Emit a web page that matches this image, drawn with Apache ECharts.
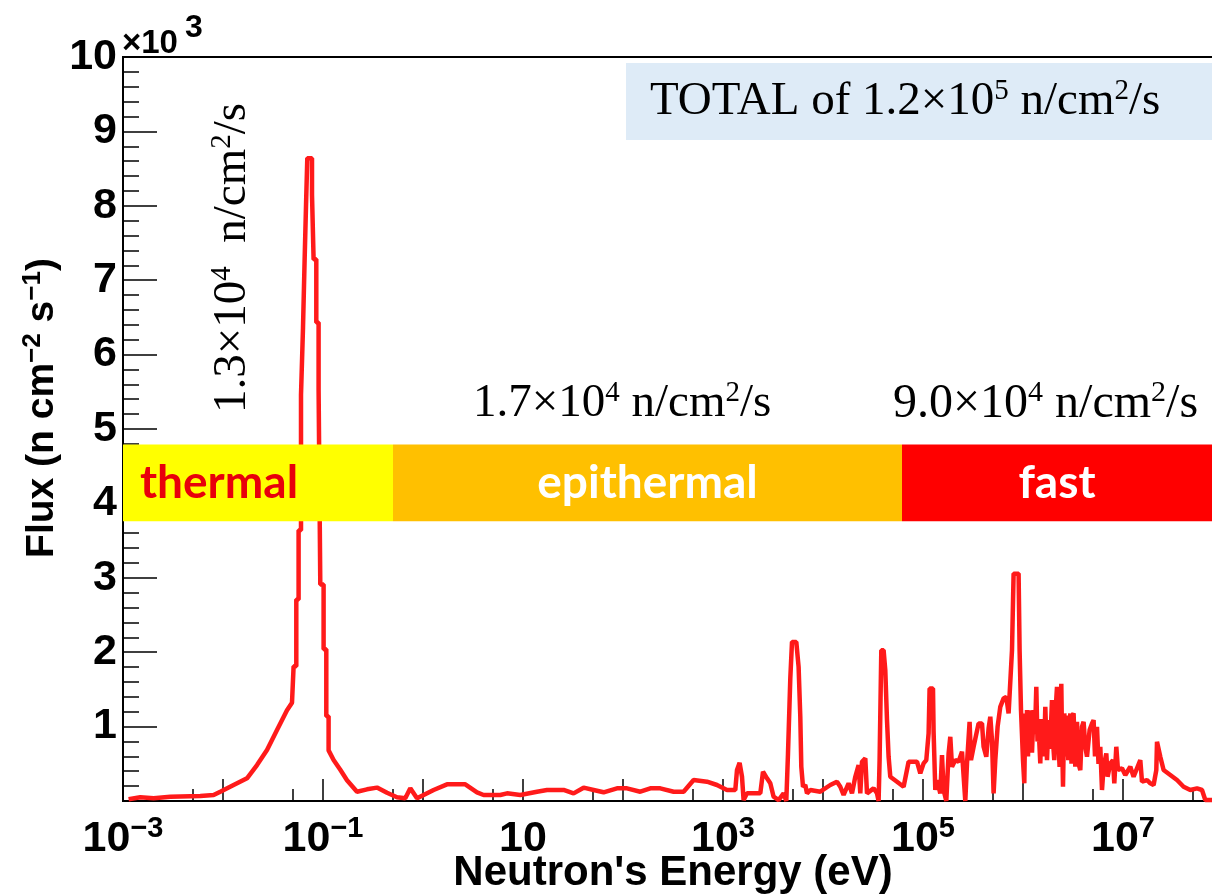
<!DOCTYPE html>
<html>
<head>
<meta charset="utf-8">
<title>Neutron flux spectrum</title>
<script src="https://cdn.jsdelivr.net/npm/echarts@6/dist/echarts.min.js"></script>
<style>
  html, body { margin: 0; padding: 0; background: #fff; }
  #chart { width: 1212px; height: 894px; }
</style>
</head>
<body>
<div id="chart"></div>
<script>
// x = log10(E / eV), y = flux in units of 10^3 n cm^-2 s^-1
var thermalSpectrum = [
  [-2.944, 0.023], [-2.827, 0.050], [-2.694, 0.036], [-2.527, 0.058], [-2.227, 0.067],
  [-2.094, 0.081], [-2.027, 0.125], [-1.894, 0.215], [-1.76, 0.305], [-1.66, 0.483],
  [-1.56, 0.685], [-1.46, 0.953], [-1.36, 1.221], [-1.31, 1.321],
  [-1.294, 1.32], [-1.294, 1.81], [-1.267, 1.81], [-1.267, 2.71], [-1.244, 2.71],
  [-1.244, 3.64], [-1.22, 3.64], [-1.22, 5.46], [-1.20, 5.46], [-1.20, 6.36],
  [-1.184, 6.36], [-1.184, 7.26], [-1.167, 7.26], [-1.167, 8.15], [-1.157, 8.15],
  [-1.157, 8.64], [-1.11, 8.64], [-1.11, 8.15], [-1.094, 8.15], [-1.094, 7.28],
  [-1.067, 7.28], [-1.067, 6.43], [-1.044, 6.43], [-1.044, 5.53], [-1.027, 5.53],
  [-1.027, 2.91], [-0.994, 2.91], [-0.994, 2.04], [-0.967, 2.04], [-0.967, 1.14],
  [-0.944, 1.14], [-0.944, 0.68], [-0.894, 0.55], [-0.827, 0.42], [-0.76, 0.28],
  [-0.66, 0.125], [-0.56, 0.157], [-0.46, 0.18], [-0.36, 0.11]
];
var epithermalSpectrum = [
  [-0.26, 0.05], [-0.177, 0.036], [-0.127, 0.17], [-0.06, 0.036], [0.006, 0.081],
  [0.106, 0.148], [0.24, 0.224], [0.423, 0.224], [0.54, 0.117], [0.606, 0.081],
  [0.773, 0.081], [0.84, 0.103], [0.973, 0.081], [1.14, 0.125], [1.24, 0.148],
  [1.406, 0.148], [1.506, 0.103], [1.606, 0.179], [1.706, 0.148], [1.806, 0.117],
  [1.94, 0.17], [2.04, 0.17], [2.173, 0.125], [2.273, 0.17], [2.373, 0.17],
  [2.506, 0.125], [2.606, 0.125], [2.706, 0.282], [2.84, 0.259], [2.94, 0.215],
  [3.04, 0.148], [3.123, 0.148], [3.14, 0.416], [3.166, 0.514], [3.19, 0.326],
  [3.206, 0.013], [3.24, 0.103], [3.373, 0.103], [3.40, 0.393], [3.44, 0.305],
  [3.473, 0.238], [3.506, 0.058], [3.556, 0.013], [3.606, 0.103], [3.633, 0.0],
  [3.65, 0.64], [3.673, 1.647], [3.69, 2.138], [3.733, 2.138], [3.756, 1.803],
  [3.773, 1.132], [3.783, 0.46], [3.80, 0.192], [3.823, 0.215], [3.84, 0.103],
  [3.873, 0.148], [3.973, 0.125], [4.073, 0.215], [4.14, 0.259], [4.173, 0.192],
  [4.206, 0.081], [4.256, 0.238], [4.29, 0.103], [4.323, 0.326], [4.356, 0.483],
  [4.373, 0.103], [4.39, 0.528], [4.423, 0.573], [4.44, 0.103], [4.506, 0.17],
  [4.54, 0.103], [4.556, 0.0], [4.566, 0.55], [4.583, 2.027], [4.606, 2.027],
  [4.623, 1.758], [4.64, 1.087], [4.656, 0.595], [4.673, 0.326], [4.74, 0.259]
];
var fastSpectrum = [
  [4.806, 0.192], [4.856, 0.528], [4.94, 0.528], [4.973, 0.372], [5.006, 0.506],
  [5.033, 0.55], [5.056, 0.909], [5.066, 1.513], [5.10, 1.513], [5.106, 0.93],
  [5.123, 0.148], [5.14, 0.282], [5.173, 0.103], [5.19, 0.617], [5.206, 0.148],
  [5.233, 0.0], [5.256, 0.64], [5.273, 0.863], [5.29, 0.46], [5.323, 0.55],
  [5.356, 0.528], [5.39, 0.662], [5.423, 0.0], [5.44, 0.506], [5.466, 1.064],
  [5.48, 0.55], [5.506, 0.729], [5.556, 1.043], [5.59, 1.043], [5.606, 0.729],
  [5.633, 0.595], [5.656, 0.976], [5.673, 1.132], [5.69, 0.819], [5.706, 0.103],
  [5.723, 0.55], [5.746, 0.997], [5.773, 1.266], [5.806, 1.379], [5.833, 1.40],
  [5.856, 1.177], [5.89, 2.027], [5.906, 3.056], [5.956, 3.056], [5.966, 2.027],
  [5.98, 1.221], [6.0, 0.55], [6.013, 0.238], [6.023, 1.177], [6.033, 0.7],
  [6.04, 1.221], [6.05, 0.6], [6.06, 1.2], [6.07, 0.75], [6.08, 1.22],
  [6.09, 0.65], [6.106, 1.221], [6.12, 0.9], [6.133, 1.534], [6.145, 0.8],
  [6.156, 0.997], [6.173, 0.506], [6.185, 1.1], [6.20, 0.997], [6.21, 0.6],
  [6.223, 1.266], [6.24, 0.55], [6.256, 1.087], [6.27, 0.7], [6.29, 1.356],
  [6.30, 0.8], [6.313, 0.55], [6.325, 1.2], [6.34, 1.534], [6.35, 0.9],
  [6.366, 0.46], [6.383, 1.577], [6.39, 0.9], [6.40, 0.192], [6.413, 1.177],
  [6.43, 0.6], [6.44, 1.15], [6.453, 0.55], [6.473, 1.177], [6.485, 0.5],
  [6.495, 1.15], [6.506, 1.177], [6.523, 0.46], [6.54, 1.064], [6.556, 0.5],
  [6.573, 0.416], [6.59, 1.0], [6.606, 1.064], [6.623, 0.729], [6.64, 0.595],
  [6.666, 0.953], [6.69, 1.043], [6.706, 1.087], [6.72, 0.6], [6.74, 0.997],
  [6.755, 0.5], [6.773, 0.729], [6.79, 0.148], [6.806, 0.46], [6.833, 0.64],
  [6.846, 0.326], [6.873, 0.506], [6.90, 0.55], [6.913, 0.238], [6.933, 0.729],
  [6.95, 0.416], [6.99, 0.439], [7.023, 0.349], [7.073, 0.46], [7.106, 0.326],
  [7.173, 0.55], [7.19, 0.259], [7.24, 0.282], [7.273, 0.238], [7.306, 0.215],
  [7.333, 0.416], [7.34, 0.796], [7.373, 0.595], [7.406, 0.416], [7.473, 0.349],
  [7.54, 0.282], [7.606, 0.192], [7.673, 0.148], [7.74, 0.17], [7.79, 0.148],
  [7.823, 0.013], [7.923, 0.013]
];

// energy bands (log10 eV) and the flux range they are drawn over
var bandNames = ['thermal', 'epithermal', 'fast'];
var bandStart = [-3, -0.3, 4.79];
var bandEnd = [-0.3, 4.79, 8];
var bandColors = ['#ffff00', '#ffc000', '#ff0000'];
var bandTextColors = ['#e8000b', '#ffffff', '#ffffff'];
var bandFlux = [3.76, 4.79];

// minor x ticks at 5 x 10^n
var minorTickLogs = [];
for (var n = -3; n < 8; n++) minorTickLogs.push(n + Math.log10(5));

var sansFont = '"Liberation Sans", Arial, Helvetica, sans-serif';
var serifFont = '"Liberation Serif", "Times New Roman", serif';

var myChart = echarts.init(document.getElementById('chart'));

function serifRich(size) {
  return {
    a: { fontFamily: serifFont, fontSize: size, fill: '#000', lineHeight: size + 4 },
    s: { fontFamily: serifFont, fontSize: Math.round(size * 0.62), fill: '#000',
         lineHeight: Math.round(size * 0.62), verticalAlign: 'top' }
  };
}

var option = {
  animation: false,
  backgroundColor: '#fff',
  grid: {
    left: 123, top: 57, right: -11, bottom: 93,
    outerBoundsMode: 'none',
    show: true, borderColor: '#000', borderWidth: 2
  },
  xAxis: [{
    type: 'value', min: -3, max: 8, interval: 1,
    axisLine: { onZero: false, lineStyle: { color: '#000', width: 2 } },
    axisTick: { inside: true, length: 22, lineStyle: { color: '#000', width: 1.5 } },
    splitLine: { show: false },
    axisLabel: {
      margin: 13,
      formatter: function (v) {
        if (Math.round(v) % 2 === 0) return '';
        if (v === 1) return '{b|10}';
        return '{b|10}{s|' + (v < 0 ? '\u2212' + (-v) : v) + '}';
      },
      rich: {
        b: { fontFamily: sansFont, fontWeight: 'bold', fontSize: 43, color: '#000', lineHeight: 50 },
        s: { fontFamily: sansFont, fontWeight: 'bold', fontSize: 29, color: '#000', lineHeight: 29, verticalAlign: 'top' }
      }
    },
    name: "Neutron's Energy (eV)",
    nameLocation: 'middle',
    nameGap: 51,
    nameMoveOverlap: false,
    nameTextStyle: { fontFamily: sansFont, fontWeight: 'bold', fontSize: 42, color: '#000' }
  }, {
    type: 'value', min: -3, max: 8, position: 'bottom',
    axisLine: { show: false, onZero: false },
    axisLabel: { show: false },
    splitLine: { show: false },
    axisTick: { inside: true, length: 12, customValues: minorTickLogs,
                lineStyle: { color: '#000', width: 1.5 } }
  }],
  yAxis: {
    type: 'value', min: 0, max: 10, interval: 1,
    axisLine: { onZero: false, lineStyle: { color: '#000', width: 2 } },
    axisTick: { inside: true, length: 34, lineStyle: { color: '#000', width: 1.5 } },
    minorTick: { show: true, splitNumber: 5, length: 16, lineStyle: { color: '#000', width: 1.5 } },
    splitLine: { show: false },
    axisLabel: {
      margin: 6, fontFamily: sansFont, fontWeight: 'bold', fontSize: 43, color: '#000',
      formatter: function (v) { return v === 0 ? '' : String(v); }
    }
  },
  series: [{
    type: 'line',
    data: thermalSpectrum.concat(epithermalSpectrum, fastSpectrum),
    showSymbol: false,
    lineStyle: { color: '#ff1a1a', width: 4.5 },
    z: 3,
    silent: true
  }, {
    type: 'custom',
    z: 10,
    silent: true,
    data: bandNames.map(function (nm, i) { return [bandStart[i], bandEnd[i]]; }),
    renderItem: function (params, api) {
      var i = params.dataIndex;
      var p0 = api.coord([api.value(0), bandFlux[1]]);
      var p1 = api.coord([api.value(1), bandFlux[0]]);
      var textX = i === 0 ? p0[0] + 17 : (p0[0] + Math.min(p1[0], 1212)) / 2;
      return {
        type: 'group',
        children: [{
          type: 'rect',
          shape: { x: p0[0], y: p0[1], width: p1[0] - p0[0], height: p1[1] - p0[1] },
          style: { fill: bandColors[i] }
        }, {
          type: 'text',
          x: textX, y: (p0[1] + p1[1]) / 2,
          style: {
            text: bandNames[i], fill: bandTextColors[i],
            font: 'bold 46px Lato, "Open Sans", sans-serif',
            align: i === 0 ? 'left' : 'center', verticalAlign: 'middle'
          }
        }]
      };
    }
  }],
  graphic: [{
    // axis multiplier x10^3
    type: 'text', x: 122, y: 44, z: 21,
    style: {
      text: '\u00d710', font: 'bold 33px "Liberation Sans", Arial, sans-serif',
      fill: '#000', align: 'left', verticalAlign: 'middle'
    }
  }, {
    type: 'text', x: 185, y: 28, z: 21,
    style: {
      text: '3', font: 'bold 32px "Liberation Sans", Arial, sans-serif',
      fill: '#000', align: 'left', verticalAlign: 'middle'
    }
  }, {
    type: 'rect', shape: { x: 626, y: 63, width: 600, height: 77 },
    style: { fill: '#deebf7' }, z: 20
  }, {
    type: 'text', x: 650, y: 102, z: 21,
    style: {
      text: '{a|TOTAL of 1.2\u00d710}{s|5}{a| n/cm}{s|2}{a|/s}',
      rich: serifRich(47), verticalAlign: 'middle', align: 'left'
    }
  }, {
    type: 'text', x: 473, y: 404, z: 21,
    style: {
      text: '{a|1.7\u00d710}{s|4}{a| n/cm}{s|2}{a|/s}',
      rich: serifRich(47), verticalAlign: 'middle', align: 'left'
    }
  }, {
    type: 'text', x: 893, y: 404, z: 21,
    style: {
      text: '{a|9.0\u00d710}{s|4}{a| n/cm}{s|2}{a|/s}',
      rich: serifRich(48), verticalAlign: 'middle', align: 'left'
    }
  }, {
    type: 'text', x: 233, y: 258, rotation: Math.PI / 2, z: 21,
    style: {
      text: '{a|1.3\u00d710}{s|4}{a|  n/cm}{s|2}{a|/s}',
      rich: serifRich(47), verticalAlign: 'middle', align: 'center'
    }
  }, {
    type: 'text', x: 42, y: 408, rotation: Math.PI / 2, z: 21,
    style: {
      text: '{a|Flux (n cm}{s|\u22122}{a| s}{s|\u22121}{a|)}',
      rich: {
        a: { fontFamily: sansFont, fontWeight: 'bold', fontSize: 39, fill: '#000', lineHeight: 44 },
        s: { fontFamily: sansFont, fontWeight: 'bold', fontSize: 26, fill: '#000', lineHeight: 26, verticalAlign: 'top' }
      },
      verticalAlign: 'middle', align: 'center'
    }
  }]
};

myChart.setOption(option);
window.addEventListener('resize', function () {
  myChart.resize();
});
</script>
</body>
</html>
